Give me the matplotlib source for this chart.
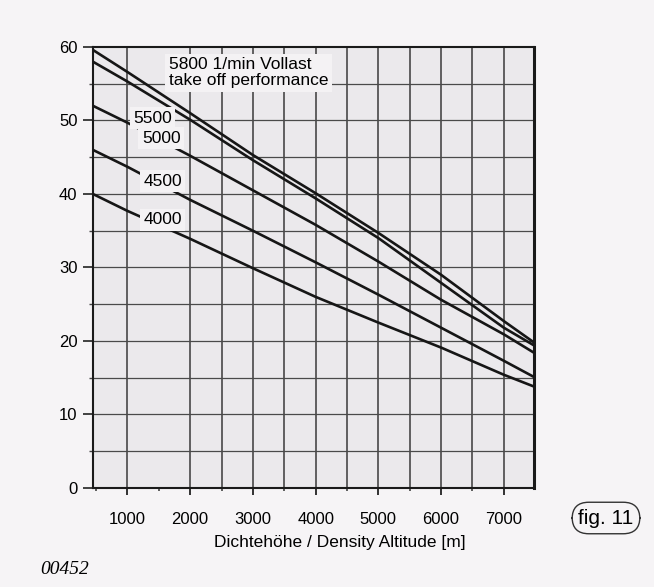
import matplotlib
matplotlib.use("Agg")
from matplotlib import pyplot as plt
from matplotlib.ticker import MultipleLocator, FixedLocator

# density altitude [m] and take off performance curves per rpm
altitude = [450, 1000, 2000, 3000, 4000, 5000, 6000, 7000, 7480]
rpm_5800 = [59.6, 56.6, 51.0, 45.3, 40.1, 34.7, 29.0, 22.7, 19.8]
rpm_5500 = [58.0, 55.3, 50.1, 44.6, 39.4, 34.0, 27.9, 21.8, 19.4]
rpm_5000 = [52.0, 49.7, 45.2, 40.5, 35.8, 30.8, 25.6, 20.9, 18.4]
rpm_4500 = [46.0, 43.7, 39.2, 35.0, 30.7, 26.3, 21.8, 17.3, 15.1]
rpm_4000 = [40.0, 37.7, 33.9, 29.9, 26.0, 22.5, 19.1, 15.4, 13.8]

x_ticks = [1000, 2000, 3000, 4000, 5000, 6000, 7000]
x_grid = [1000, 2000, 2500, 3000, 3500, 4000, 4500, 5000, 5500, 6000, 6500, 7000]
y_grid = [5, 10, 15, 20, 25, 30, 35, 40, 45, 50, 55]

plt.rcParams['font.family'] = ['Liberation Sans', 'DejaVu Sans']

fig = plt.figure(figsize=(6.54, 5.87), dpi=100, facecolor='#f6f4f6')
ax = fig.add_axes([0.142, 0.1687, 0.6745, 0.7513])
ax.set_facecolor('#ebe9ec')

for gx in x_grid:
    ax.axvline(gx, color='#3a3a3a', lw=1.1, zorder=1)
for gy in y_grid:
    ax.axhline(gy, color='#4a4a4a', lw=0.9, zorder=1)

for ys in [rpm_5800, rpm_5500, rpm_5000, rpm_4500, rpm_4000]:
    ax.plot(altitude, ys, color='#161616', lw=1.9, zorder=3, solid_capstyle='butt')

box = dict(facecolor='#f4f2f4', edgecolor='none', pad=2.5)
ax.text(1660, 56.5, '5800 1/min Vollast\ntake off performance', fontsize=12.5,
        ha='left', va='center', linespacing=1.1, bbox=box, zorder=4)
ax.text(1400, 50.3, '5500', fontsize=12.5, ha='center', va='center', bbox=box, zorder=4)
ax.text(1540, 47.6, '5000', fontsize=12.5, ha='center', va='center', bbox=box, zorder=4)
ax.text(1560, 41.7, '4500', fontsize=12.5, ha='center', va='center', bbox=box, zorder=4)
ax.text(1560, 36.5, '4000', fontsize=12.5, ha='center', va='center', bbox=box, zorder=4)

ax.set_xlim(450, 7480)
ax.set_ylim(0, 60)
ax.xaxis.set_major_locator(FixedLocator(x_ticks))
ax.xaxis.set_minor_locator(FixedLocator([500, 1500, 2500, 3500, 4500, 5500, 6500, 7500]))
ax.yaxis.set_major_locator(MultipleLocator(10))
ax.yaxis.set_minor_locator(MultipleLocator(5))
ax.tick_params(axis='x', which='major', length=5, width=1.3, pad=12, labelsize=12, color='#222222')
ax.tick_params(axis='x', which='minor', length=2, width=1.2, color='#444444')
ax.tick_params(axis='y', which='major', length=7, width=1.2, pad=4, labelsize=12, color='#222222')
ax.tick_params(axis='y', which='minor', length=3, width=1.0, color='#444444')

for side in ['left', 'bottom', 'top']:
    ax.spines[side].set_linewidth(1.5)
    ax.spines[side].set_color('#1a1a1a')
ax.spines['right'].set_linewidth(2.2)
ax.spines['right'].set_color('#1a1a1a')

fig.text(340 / 654, 1 - 543 / 587, 'Dichtehöhe / Density Altitude [m]', fontsize=12.5,
         ha='center', va='center')
fig.text(606 / 654, 1 - 518 / 587, 'fig. 11', fontsize=15, ha='center', va='center',
         bbox=dict(boxstyle='round,pad=0.3,rounding_size=0.8', facecolor='none',
                   edgecolor='#333333', lw=1.0))
fig.text(40 / 654, 1 - 570 / 587, '00452', fontsize=14, style='italic',
         family=['Liberation Serif', 'DejaVu Serif'], ha='left', va='center')

plt.savefig('out.png', dpi=100, facecolor=fig.get_facecolor())
